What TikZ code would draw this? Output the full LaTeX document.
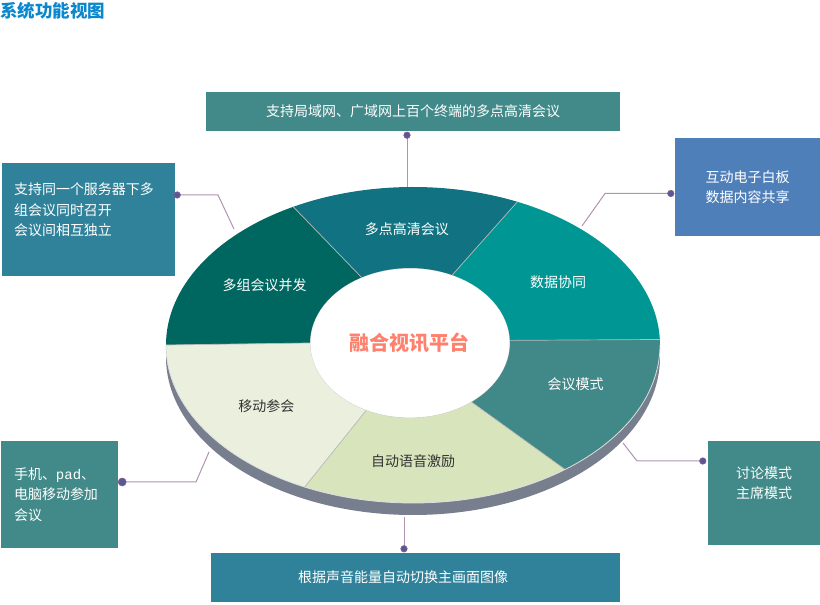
\documentclass[tikz,border=0pt]{standalone}
\usepackage{fontspec}
\setmainfont{Noto Sans CJK SC}
\setmonofont{Liberation Mono}
\usepackage{xcolor}

\definecolor{settA}{RGB}{0,102,96}
\definecolor{settB}{RGB}{17,115,130}
\definecolor{settC}{RGB}{0,150,148}
\definecolor{settD}{RGB}{64,137,136}
\definecolor{settE}{RGB}{216,228,188}
\definecolor{settF}{RGB}{234,240,221}
\definecolor{fianco}{RGB}{119,126,142}
\definecolor{boxverde}{RGB}{65,138,137}
\definecolor{boxblu}{RGB}{47,130,153}
\definecolor{boxazzurro}{RGB}{79,127,185}
\definecolor{blutitolo}{RGB}{10,135,205}
\definecolor{salmone}{RGB}{255,128,108}
\definecolor{scuro}{RGB}{51,51,51}
\definecolor{linea}{RGB}{176,148,176}
\definecolor{punto}{RGB}{85,90,150}
\definecolor{bordopunto}{RGB}{140,90,140}

\begin{document}
\begin{tikzpicture}[x=1pt, y=1pt,
    box/.style={fill=#1, text=white, inner sep=0pt, font=\fontsize{14pt}{20.5pt}\selectfont},
    conn/.style={draw=linea, line width=1pt},
    dot/.style={circle, fill=punto, draw=bordopunto, line width=0.6pt, minimum size=6.5pt, inner sep=0pt}]
    \useasboundingbox (0,0) rectangle (820,605);

    % Titolo
    \node[anchor=north west, inner sep=0pt, text=blutitolo, font=\fontsize{17.5pt}{20pt}\selectfont\bfseries] (titolo) at (0,603) {系统功能视图};

    % Riquadri
    \node[box=boxverde, minimum width=414pt, minimum height=39pt] (topbox) at (413,493.5) {支持局域网、广域网上百个终端的多点高清会议};
    \node[box=boxblu, minimum width=173pt, minimum height=113pt, text width=149pt, align=left] (ltbox) at (88.5,385.5) {支持同一个服务器下多\\组会议同时召开\\会议间相互独立\\~};
    \node[box=boxazzurro, minimum width=145pt, minimum height=98pt, align=center] (rtbox) at (747.5,418) {互动电子白板\\数据内容共享};
    \node[box=boxverde, minimum width=117pt, minimum height=107pt, text width=91pt, align=left] (lbbox) at (59.5,110.5) {手机、\texttt{pad}、\\电脑移动参加\\会议};
    \node[box=boxblu, minimum width=409pt, minimum height=49pt, text width=235pt, align=left] (btbox) at (415.5,27.5) {根据声音能量自动切换主画面图像};
    \node[box=boxverde, minimum width=112pt, minimum height=104pt, align=center] (rbbox) at (764,112) {讨论模式\\主席模式\\~};

    % Collegamenti
    \coordinate (eTop) at (407,417);
    \coordinate (kLT) at (218,410);
    \coordinate (eLT) at (234,376);
    \coordinate (kRT) at (605,411.5);
    \coordinate (eRT) at (582,379);
    \coordinate (kLB) at (196,123);
    \coordinate (eLB) at (209,153);
    \coordinate (eBT) at (404,88);
    \coordinate (kRB) at (637,144);
    \coordinate (eRB) at (623,162);
    \draw[conn] (topbox.south -| eTop) ++(0,-4) node[dot]{} -- (eTop);
    \draw[conn] (ltbox.east |- kLT) ++(2,0) node[dot]{} -- (kLT) -- (eLT);
    \draw[conn] (rtbox.west |- kRT) ++(-4,0) node[dot]{} -- (kRT) -- (eRT);
    \draw[conn] (lbbox.east |- kLB) ++(4,0) node[dot, minimum size=8pt]{} -- (kLB) -- (eLB);
    \draw[conn] (btbox.north -| eBT) ++(0,4) node[dot]{} -- (eBT);
    \draw[conn] (rbbox.west |- kRB) ++(-5,0) node[dot]{} -- (kRB) -- (eRB);

    \begin{scope}[shift={(413,260)}]
        % Fianco
        \fill[fianco] (0,-12) ellipse[x radius=247pt, y radius=158pt];
        \fill[fianco] (-247,-12) rectangle (247,0);
        \fill[white] (-3,2) ellipse[x radius=100pt, y radius=75pt];
        \draw[gray!35, line width=0.8pt] (-3,2) ellipse[x radius=100pt, y radius=75pt];

        % Settori
        \foreach \a/\b/\c/\m/\tc/\testo [count=\i] in {
                119/180/settA/149/white/多组会议并发,
                65/119/settB/92/white/多点高清会议,
                2/65/settC/33/white/数据协同,
                -52/2/settD/-20/white/会议模式,
                -116/-52/settE/-90/scuro/自动语音激励,
                180/244/settF/212/scuro/移动参会} {
                \fill[\c] (\a:247 and 158) arc[start angle=\a, end angle=\b, x radius=247pt, y radius=158pt]
                    -- ([shift={(-3,2)}]\b:100 and 75) arc[start angle=\b, end angle=\a, x radius=100pt, y radius=75pt] -- cycle;
                \node[text=\tc, font=\fontsize{14pt}{17pt}\selectfont] (sett\i) at (\m:173 and 116) {\testo};
            }
        \foreach \a in {119,65,2,-52,-116,180} {
                \draw[gray!55, line width=0.7pt] ([shift={(-3,2)}]\a:100 and 75) -- (\a:247 and 158);
            }
        \draw[white!75!gray, line width=0.8pt] (180:247 and 158) arc[start angle=180, end angle=360, x radius=247pt, y radius=158pt];
    \end{scope}

    % Centro
    \node[text=salmone, font=\fontsize{20pt}{24pt}\selectfont\bfseries] (centro) at (409,262) {融合视讯平台};
\end{tikzpicture}
\end{document}
